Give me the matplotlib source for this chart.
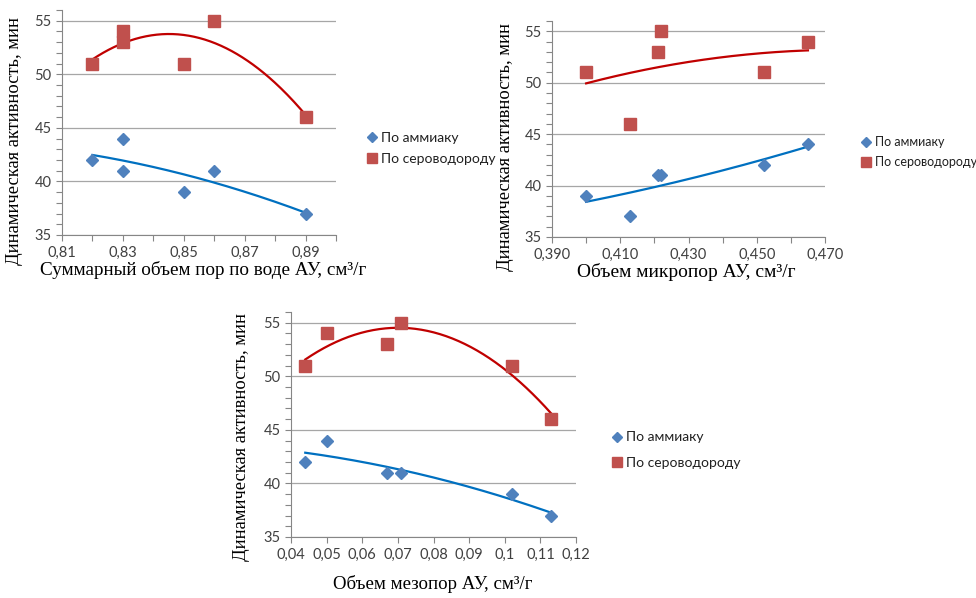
import numpy as np
import matplotlib
matplotlib.use('Agg')
import matplotlib.pyplot as plt
from matplotlib.lines import Line2D
from matplotlib.ticker import MultipleLocator, FixedLocator

# samples: ammonia / H2S dynamic activity, min
nh3 = [42, 44, 41, 41, 39, 37]
h2s = [51, 54, 53, 55, 51, 46]
# pore volumes for the same samples, cm3/g
v_total = [0.82, 0.83, 0.83, 0.86, 0.85, 0.89]
v_micro = [0.452, 0.465, 0.421, 0.422, 0.400, 0.413]
v_meso = [0.044, 0.050, 0.067, 0.071, 0.102, 0.113]

ylab = 'Динамическая активность, мин'
xlab_total = 'Суммарный объем пор по воде АУ, см³/г'
xlab_micro = 'Объем микропор АУ, см³/г'
xlab_meso = 'Объем мезопор АУ, см³/г'
leg_nh3 = 'По аммиаку'
leg_h2s = 'По сероводороду'

W, H = 976, 598
fig = plt.figure(figsize=(W / 100, H / 100), dpi=100)
fig.patch.set_facecolor('white')

tickfont = 'Lato'
serif = 'Liberation Serif'

def px_axes(l, r, t, b):
    return fig.add_axes([l / W, 1 - b / H, (r - l) / W, (b - t) / H])

def draw(ax, x, xlim, xmajor, xlabels):
    x = np.array(x)
    ax.plot(x, nh3, 'D', color='#4f81bd', ms=6.5, mec='#4f81bd', zorder=3)
    ax.plot(x, h2s, 's', color='#c0504d', ms=9.3, mec='#c0504d', zorder=3)
    # polynomial (2nd order) trend lines, as in the source chart
    xs = np.linspace(x.min(), x.max(), 200)
    for y, c in ((nh3, '#0070c0'), (h2s, '#c00000')):
        p = np.polyfit(x, y, 2)
        ax.plot(xs, np.polyval(p, xs), color=c, lw=1.6, zorder=2)
    ax.set_xlim(*xlim)
    ax.set_ylim(35, 56)
    ax.xaxis.set_major_locator(FixedLocator(xmajor))
    ax.set_xticklabels(xlabels)
    ax.xaxis.set_minor_locator(MultipleLocator(0.01))
    ax.yaxis.set_major_locator(FixedLocator([35, 40, 45, 50, 55]))
    ax.yaxis.set_minor_locator(MultipleLocator(1))
    ax.grid(axis='y', which='major', color='#a6a6a6', lw=0.9)
    ax.set_axisbelow(True)
    for s in ('top', 'right'):
        ax.spines[s].set_visible(False)
    for s in ('left', 'bottom'):
        ax.spines[s].set_color('#868686')
    ax.tick_params(which='both', color='#868686', length=4, width=0.8,
                   labelsize=10.5, labelcolor='#404040')
    for t in ax.get_xticklabels() + ax.get_yticklabels():
        t.set_fontfamily(tickfont)

def legend(x, y, spacing, size=10):
    h = [Line2D([], [], ls='none', marker='D', color='#4f81bd', ms=5),
         Line2D([], [], ls='none', marker='s', color='#c0504d', ms=7.5)]
    fig.legend(h, [leg_nh3, leg_h2s], loc='center left',
               bbox_to_anchor=(x / W, 1 - y / H), frameon=False,
               prop={'family': tickfont, 'size': size}, labelcolor='#202020',
               handlelength=0.8, handletextpad=0.3, borderpad=0,
               borderaxespad=0, labelspacing=spacing)

ax1 = px_axes(62, 336, 10, 235)
draw(ax1, v_total, (0.81, 0.90), [0.81, 0.83, 0.85, 0.87, 0.89],
     ['0,81', '0,83', '0,85', '0,87', '0,89'])
ax2 = px_axes(552, 825, 21, 237)
draw(ax2, v_micro, (0.39, 0.47), [0.39, 0.41, 0.43, 0.45, 0.47],
     ['0,390', '0,410', '0,430', '0,450', '0,470'])
ax3 = px_axes(291, 576, 312, 537)
draw(ax3, v_meso, (0.04, 0.12), np.arange(0.04, 0.121, 0.01),
     ['0,04', '0,05', '0,06', '0,07', '0,08', '0,09', '0,1', '0,11', '0,12'])

legend(366, 148.5, 0.65)
legend(861, 152, 0.65, size=9)
legend(611, 450, 0.95)

fig.text(203 / W, 1 - 270 / H, xlab_total, ha='center', va='center',
         family=serif, fontsize=13.8)
fig.text(686 / W, 1 - 272 / H, xlab_micro, ha='center', va='center',
         family=serif, fontsize=14)
fig.text(433 / W, 1 - 584 / H, xlab_meso, ha='center', va='center',
         family=serif, fontsize=13.6)
fig.text(15 / W, 1 - 141 / H, ylab, ha='center', va='center',
         rotation=90, family=serif, fontsize=13.3)
fig.text(505 / W, 1 - 147 / H, ylab, ha='center', va='center',
         rotation=90, family=serif, fontsize=13.3)
fig.text(242 / W, 1 - 437 / H, ylab, ha='center', va='center',
         rotation=90, family=serif, fontsize=13.3)

fig.savefig('out.png', dpi=100, facecolor='white')
